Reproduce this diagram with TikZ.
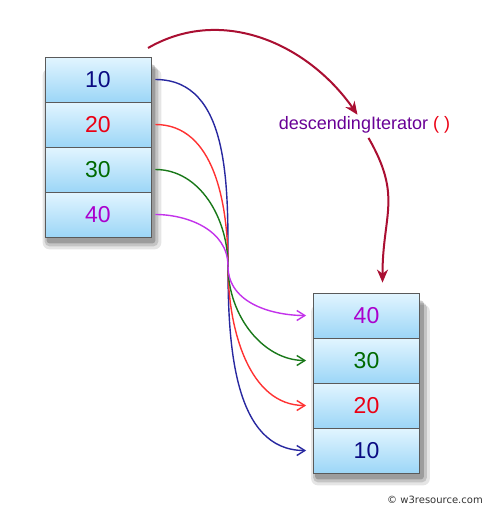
\documentclass[tikz,border=0pt]{standalone}
\usepackage{fontspec}
\setmainfont{Liberation Sans}
\newfontfamily\markfont{DejaVu Sans}
\usetikzlibrary{arrows.meta, backgrounds}
\definecolor{celltop}{RGB}{226,245,255}
\definecolor{cellbot}{RGB}{156,214,247}
\definecolor{cellline}{RGB}{90,90,90}
\definecolor{n10}{RGB}{10,10,130}
\definecolor{n20}{RGB}{235,0,20}
\definecolor{n30}{RGB}{0,105,0}
\definecolor{n40}{RGB}{170,0,205}
\definecolor{c10}{RGB}{40,40,160}
\definecolor{c20}{RGB}{255,50,50}
\definecolor{c30}{RGB}{25,120,25}
\definecolor{c40}{RGB}{195,50,235}
\definecolor{crim}{RGB}{170,15,50}
\definecolor{methodc}{RGB}{105,0,150}

\begin{document}
\begin{tikzpicture}[x=1pt, y=1pt, >=Stealth,
    cell/.style={rectangle, draw=cellline, line width=0.8pt, top color=celltop, bottom color=cellbot,
      minimum width=106pt, minimum height=45pt, inner sep=0pt, font=\fontsize{23}{26}\selectfont},
    link/.style={line width=1.4pt, -{Straight Barb[length=8pt, width=10pt]}, shorten <=4pt, shorten >=7pt},
    callarrow/.style={draw=crim, line width=2pt, -{Stealth[length=13pt, width=11pt, inset=4pt]}},
    shade1/.style={fill=black, opacity=0.10, rounded corners=7pt},
    shade2/.style={fill=black, opacity=0.14, rounded corners=5pt},
    shade3/.style={fill=black, opacity=0.20, rounded corners=3pt}]
  \useasboundingbox (0,0) rectangle (487,-509);
  % left list
  \node[cell, text=n10] (l10) at (98,-79.5)  {10};
  \node[cell, text=n20] (l20) at (98,-124.5) {20};
  \node[cell, text=n30] (l30) at (98,-169.5) {30};
  \node[cell, text=n40] (l40) at (98,-214.5) {40};
  % right list
  \node[cell, text=n40] (r40) at (366.5,-315.5) {40};
  \node[cell, text=n30] (r30) at (366.5,-360.5) {30};
  \node[cell, text=n20] (r20) at (366.5,-405.5) {20};
  \node[cell, text=n10] (r10) at (366.5,-450.5) {10};
  % method call
  \node[anchor=base, inner sep=0pt, text=methodc, font=\fontsize{18}{20}\selectfont] (call) at (364.5,-129)
    {descendingIterator {\color{n20}( )}};
  \coordinate (src) at (148,-48);
  \coordinate (m) at (228,-266);
  \draw[callarrow] (src) to[out=30, in=125] ([xshift=-7pt, yshift=1pt]call.north);
  \draw[callarrow] ([xshift=4pt, yshift=-5pt]call.south) to[out=-60, in=90, looseness=1.2] ([xshift=16pt, yshift=10pt]r40.north);
  % links
  \draw[link, c10] (l10.east) to[out=0, in=90] (m) to[out=-90, in=180] (r10.west);
  \draw[link, c20] (l20.east) to[out=0, in=90] (m) to[out=-90, in=180] (r20.west);
  \draw[link, c30] (l30.east) to[out=0, in=90] (m) to[out=-90, in=180] (r30.west);
  \draw[link, c40] (l40.east) to[out=0, in=90] (m) to[out=-90, in=180] (r40.west);
  \node[font=\markfont\fontsize{10}{12}\selectfont, text=black!80] (mark) at (435,-500) {© w3resource.com};
  % shadows
  \begin{scope}[on background layer]
    \fill[white] (0,0) rectangle (487,-509);
    \fill[shade1] ([xshift=-2pt, yshift=-12pt]l10.north west) rectangle ([xshift=10pt, yshift=-12pt]l40.south east);
    \fill[shade2] ([xshift=0pt, yshift=-10pt]l10.north west) rectangle ([xshift=7pt, yshift=-9pt]l40.south east);
    \fill[shade3] ([xshift=2pt, yshift=-8pt]l10.north west) rectangle ([xshift=4pt, yshift=-6pt]l40.south east);
    \fill[shade1] ([xshift=-2pt, yshift=-12pt]r40.north west) rectangle ([xshift=10pt, yshift=-12pt]r10.south east);
    \fill[shade2] ([xshift=0pt, yshift=-10pt]r40.north west) rectangle ([xshift=7pt, yshift=-9pt]r10.south east);
    \fill[shade3] ([xshift=2pt, yshift=-8pt]r40.north west) rectangle ([xshift=4pt, yshift=-6pt]r10.south east);
  \end{scope}
\end{tikzpicture}
\end{document}
